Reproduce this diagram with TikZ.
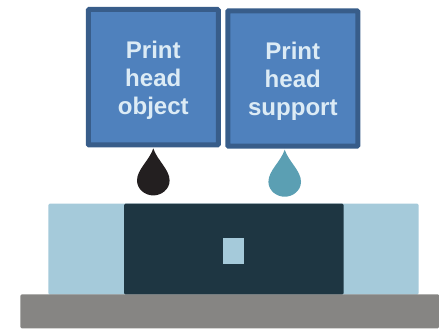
\documentclass[tikz,border=0pt]{standalone}
\usepackage{fontspec}
\setmainfont{Liberation Sans}
\usepackage{xcolor}
\usetikzlibrary{positioning}
\definecolor{headfill}{RGB}{79,129,189}
\definecolor{headline}{RGB}{56,93,138}
\definecolor{headtext}{RGB}{220,235,245}
\definecolor{inkblack}{RGB}{35,31,32}
\definecolor{inkteal}{RGB}{91,159,179}
\definecolor{slidedark}{RGB}{30,54,66}
\definecolor{slidelight}{RGB}{165,202,218}
\definecolor{plategrey}{RGB}{134,133,131}
\newcommand{\inkdrop}[2]{\fill[#1, shift={(#2)}] (0,1) .. controls (4,13) and (16.3,22) .. (16.3,33)
    .. controls (16.3,42) and (8,48) .. (0,48) .. controls (-8,48) and (-16.3,42) .. (-16.3,33)
    .. controls (-16.3,22) and (-4,13) .. (0,1) -- cycle;}

\begin{document}
\begin{tikzpicture}[x=0.02cm, y=-0.02cm,
    headbox/.style={draw=headline, fill=headfill, line width=0.1cm, rounded corners=0.5pt,
      minimum width=2.6cm, minimum height=2.71cm, align=center, text=headtext,
      font=\fontsize{13.7}{16}\selectfont\bfseries},
    block/.style={rounded corners=0.8pt, inner sep=0pt, anchor=north west}]
  \useasboundingbox (0,0) rectangle (439,328);
  % build part on the plate
  \node[block, fill=slidelight, minimum width=7.406cm, minimum height=1.82cm] (support) at (48,203.3) {};
  \node[block, fill=slidedark, minimum width=4.392cm, minimum height=1.82cm] (object) at (123.7,203.3) {};
  \node[fill=slidelight, inner sep=0pt, minimum width=0.42cm, minimum height=0.514cm] (core) at (233.5,251.2) {};
  \node[block, fill=plategrey, minimum width=8.38cm, minimum height=0.68cm] (plate) at (20,294) {};
  % print heads
  \node[headbox] (objhead) at (153.3,77.2) {\rule{0pt}{13.3pt}Print\\head\\object};
  \node[headbox] (suphead) at (292.8,78.5) {\rule{0pt}{13.3pt}Print\\head\\support};
  % droplets below the heads
  \inkdrop{inkblack}{objhead.south}
  \inkdrop{inkteal}{[xshift=-0.162cm]suphead.south}
\end{tikzpicture}
\end{document}
